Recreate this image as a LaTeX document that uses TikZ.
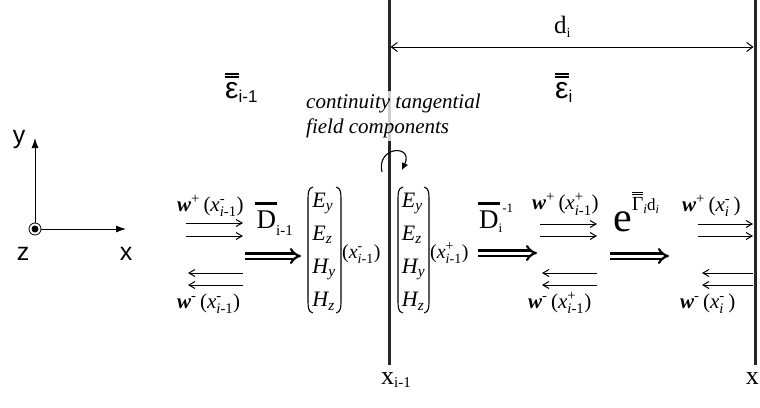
\documentclass[tikz,border=0pt]{standalone}
\usepackage{fontspec}
\setmainfont{Liberation Serif}
\setsansfont{Liberation Sans}
\usepackage{amsmath}
\usepackage{graphicx}
\usetikzlibrary{arrows.meta}
\newcommand\mI[1]{\text{\itshape #1}}
\newcommand\mR[1]{\text{\upshape #1}}
\newcommand\mB[1]{\text{\bfseries\itshape #1}}
\newsavebox\dbbox
\newcommand\dblbar[3]{\sbox\dbbox{#1}%
 \rlap{\rule[\dimexpr\ht\dbbox+#2\relax]{\wd\dbbox}{#3}}%
 \rlap{\rule[\dimexpr\ht\dbbox+#2+#3+#3\relax]{\wd\dbbox}{#3}}%
 \usebox\dbbox}
\begin{document}
\begin{tikzpicture}[x=1pt,y=-1pt,
  wall/.style={line width=3pt, draw=black!85},
  thinarr/.style={line width=1pt, -{Straight Barb[length=6pt,width=7pt]}},
  thickarr/.style={double, double distance=3pt, line width=2.2pt, -{Implies}},
  axis/.style={line width=0.9pt, -{Latex[length=10pt,width=7pt]}},
  sanslab/.style={inner sep=0, font=\sffamily\fontsize{25}{25}\selectfont},
  wlab/.style={inner sep=0, anchor=base west, font=\fontsize{21}{21}\selectfont},
  paren/.style={line width=1.1pt}]
\useasboundingbox (0,0) rectangle (760,407);

% walls
\coordinate (w1t) at (389,0); \coordinate (w1b) at (389,365);
\coordinate (w2t) at (755,0); \coordinate (w2b) at (755,365);
\draw[wall] (w1t) -- (w1b);
\draw[wall] (w2t) -- (w2b);

% thickness d_i
\coordinate (da) at (390.5,47); \coordinate (db) at (753.5,47);
\draw[line width=1pt, {Straight Barb[length=6pt,width=9pt]}-{Straight Barb[length=6pt,width=9pt]}] (da) -- (db);
\node[anchor=base west, inner sep=0, font=\fontsize{25}{25}\selectfont] (dlab) at (554,33) {d\raisebox{-4pt}{\fontsize{14}{14}\selectfont i}};

% permittivities
\node[anchor=base west, inner sep=0, font=\sffamily\fontsize{30}{30}\selectfont] (eps1) at (225,98) {\dblbar{ε}{4pt}{1.5pt}\raisebox{-4pt}{\fontsize{17}{17}\selectfont i-1}};
\node[anchor=base west, inner sep=0, font=\sffamily\fontsize{30}{30}\selectfont] (eps2) at (555,98) {\dblbar{ε}{4pt}{1.5pt}\raisebox{-4pt}{\fontsize{17}{17}\selectfont i}};

% continuity text
\node[anchor=base west, inner sep=0, fill=white, fill opacity=0.78, text opacity=1, font=\itshape\fontsize{21}{25}\selectfont] (cont) at (306,108) {\begin{tabular}[t]{@{}l@{}}continuity tangential\\field components\end{tabular}};

% rotation arrow
\coordinate (rs) at (382,172); \coordinate (re) at (402,170);
\draw[line width=1.1pt, -{Latex[length=7pt,width=7pt]}] (rs) .. controls (376,146) and (414,144) .. (re);

% axes
\node[circle, draw, line width=0.8pt, minimum size=12pt, inner sep=0] (orig) at (35,229) {};
\fill (orig.center) circle (3.5pt);
\coordinate (ytip) at (35,138); \coordinate (xtip) at (126,229);
\draw[axis] (orig) -- (ytip);
\draw[axis] (orig) -- (xtip);
\node[sanslab] (ylab) at (19,139) {y};
\node[sanslab] (xlab) at (126,254) {x};
\node[sanslab] (zlab) at (23,254) {z};

% w labels
\node[wlab] (wp1) at (177,211) {$\mB{w}^{\mR{+}}\mR{\,(}\mI{x}^{\mR{-}}_{\mI{i}\mR{-1}}\mR{)}$};
\node[wlab] (wm1) at (177,308) {$\mB{w}^{\mR{-}}\mR{\,(}\mI{x}^{\mR{-}}_{\mI{i}\mR{-1}}\mR{)}$};
\node[wlab] (wp2) at (532,209.5) {$\mB{w}^{\mR{+}}\mR{\,(}\mI{x}^{\mR{+}}_{\mI{i}\mR{-1}}\mR{)}$};
\node[wlab] (wm2) at (528,308) {$\mB{w}^{\mR{-}}\mR{\,(}\mI{x}^{\mR{+}}_{\mI{i}\mR{-1}}\mR{)}$};
\node[wlab] (wp3) at (682,211) {$\mB{w}^{\mR{+}}\mR{\,(}\mI{x}^{\mR{-}}_{\mI{i}}\mR{\,)}$};
\node[wlab] (wm3) at (680,308) {$\mB{w}^{\mR{-}}\mR{\,(}\mI{x}^{\mR{-}}_{\mI{i}}\mR{\,)}$};

% thin arrow pairs
\coordinate (a1s) at (186,223); \coordinate (a1e) at (243,223);
\coordinate (a2s) at (186,236); \coordinate (a2e) at (243,236);
\coordinate (a3s) at (243,273); \coordinate (a3e) at (188,273);
\coordinate (a4s) at (243,285); \coordinate (a4e) at (188,285);
\coordinate (b1s) at (540,224); \coordinate (b1e) at (597,224);
\coordinate (b2s) at (540,236); \coordinate (b2e) at (597,236);
\coordinate (b3s) at (597,273); \coordinate (b3e) at (542,273);
\coordinate (b4s) at (597,285); \coordinate (b4e) at (542,285);
\coordinate (c1s) at (698,224); \coordinate (c1e) at (753,224);
\coordinate (c2s) at (698,236); \coordinate (c2e) at (753,236);
\coordinate (c3s) at (753,273); \coordinate (c3e) at (702,273);
\coordinate (c4s) at (753,285); \coordinate (c4e) at (702,285);
\foreach \p in {a,b,c}{\foreach \k in {1,2,3,4}{\draw[thinarr] (\p\k s) -- (\p\k e);}}

% thick double arrows
\coordinate (t1s) at (245,256); \coordinate (t1e) at (301,256);
\coordinate (t2s) at (478,253); \coordinate (t2e) at (537,253);
\coordinate (t3s) at (610,256); \coordinate (t3e) at (669,256);
\draw[thickarr] (t1s) -- (t1e);
\draw[thickarr] (t2s) -- (t2e);
\draw[thickarr] (t3s) -- (t3e);

% operator labels
\node[anchor=base west, inner sep=0, font=\fontsize{27}{27}\selectfont] (Dm1) at (255,228) {\rlap{\rule[23.5pt]{22pt}{2.5pt}}\hspace{1.5pt}D\raisebox{-7pt}{\fontsize{15}{15}\selectfont i-1}};
\node[anchor=base west, inner sep=0, font=\fontsize{27}{27}\selectfont] (Dinv) at (478,228) {\rlap{\rule[23.5pt]{22pt}{2.5pt}}\hspace{1pt}D\raisebox{-4pt}{\fontsize{13}{13}\selectfont i}\raisebox{16pt}{\fontsize{13}{13}\selectfont -1}};
\node[anchor=base west, inner sep=0, font=\fontsize{42}{42}\selectfont] (eG) at (613,231) {e\raisebox{21pt}{\fontsize{20}{20}\selectfont\dblbar{Γ}{2pt}{1pt}\raisebox{-3pt}{\fontsize{13}{13}\selectfont\itshape i}\fontsize{17}{17}\selectfont d\raisebox{-3pt}{\fontsize{12}{12}\selectfont\itshape i}}};

% field vectors
\node[anchor=base, inner sep=0, font=\fontsize{22}{33.3}\selectfont] (m1) at (324,207) {\begin{tabular}[t]{@{}l@{}}$\mI{E}_{\mI{y}}$\\$\mI{E}_{\mI{z}}$\\$\mI{H}_{\mI{y}}$\\$\mI{H}_{\mI{z}}$\end{tabular}};
\node[anchor=base, inner sep=0, font=\fontsize{22}{33.3}\selectfont] (m2) at (413.5,207) {\begin{tabular}[t]{@{}l@{}}$\mI{E}_{\mI{y}}$\\$\mI{E}_{\mI{z}}$\\$\mI{H}_{\mI{y}}$\\$\mI{H}_{\mI{z}}$\end{tabular}};
\draw[paren] (313,187) .. controls (308,188) and (308,193) .. (308,200) -- (308,300) .. controls (308,307) and (308,312) .. (313,313);
\draw[paren] (336,187) .. controls (341,188) and (341,193) .. (341,200) -- (341,300) .. controls (341,307) and (341,312) .. (336,313);
\draw[paren] (403,187) .. controls (398,188) and (398,193) .. (398,200) -- (398,300) .. controls (398,307) and (398,312) .. (403,313);
\draw[paren] (424,187) .. controls (429,188) and (429,193) .. (429,200) -- (429,300) .. controls (429,307) and (429,312) .. (424,313);
\node[anchor=base west, inner sep=0, font=\fontsize{20}{20}\selectfont] (xm) at (342,258.5) {$\mR{(}\mI{x}^{\mR{-}}_{\mI{i}\mR{-1}}\mR{)}$};
\node[anchor=base west, inner sep=0, font=\fontsize{20}{20}\selectfont] (xp) at (430,258.5) {$\mR{(}\mI{x}^{\mR{+}}_{\mI{i}\mR{-1}}\mR{)}$};

% interface positions
\node[anchor=base west, inner sep=0, font=\fontsize{26}{26}\selectfont] (xim1) at (381,384) {x\raisebox{-3pt}{\fontsize{15}{15}\selectfont i-1}};
\node[anchor=base east, inner sep=0, font=\fontsize{26}{26}\selectfont] (xi) at (759,384) {x};
\end{tikzpicture}
\end{document}
